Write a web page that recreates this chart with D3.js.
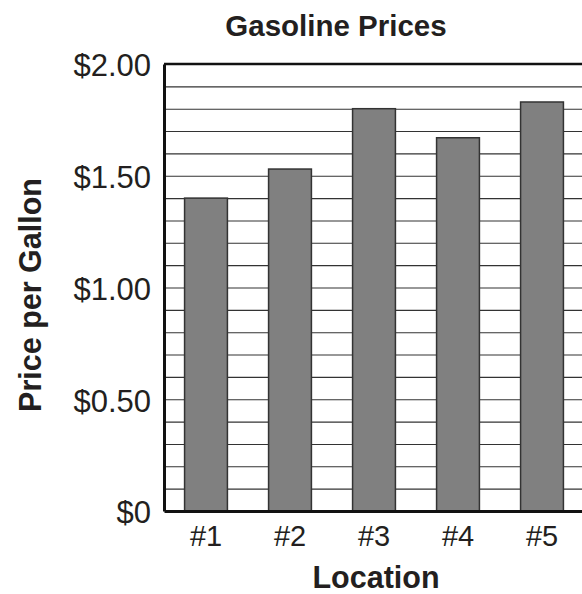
<!DOCTYPE html>
<html>
<head>
<meta charset="utf-8">
<script src="https://cdn.jsdelivr.net/npm/d3@7"></script>
<style>
  body { margin: 0; background: #fff; }
  text { font-family: "Liberation Sans", Arial, Helvetica, sans-serif; fill: #231f20; }
</style>
</head>
<body>
<div id="content"></div>
<script>
// data
var locations = ["#1", "#2", "#3", "#4", "#5"];
var prices = [1.40, 1.53, 1.80, 1.67, 1.83];
var yTicks = [0, 0.5, 1.0, 1.5, 2.0];

(() => {
    var W = 582, H = 594;
    var margin = { top: 64, right: -2, bottom: 83, left: 164 };
    var width = W - margin.left - margin.right;
    var height = H - margin.top - margin.bottom;

    var svg = d3.select("#content").append("svg")
        .attr("width", W)
        .attr("height", H);

    var g = svg.append("g")
        .attr("transform", "translate(" + margin.left + "," + margin.top + ")");

    var x = d3.scaleBand().domain(locations).range([0, width])
        .paddingInner(0.49).paddingOuter(0.245);
    var y = d3.scaleLinear().domain([0, 2]).range([height, 0]);

    // gridlines every 10 cents
    var grid = d3.range(1, 20).map(function (i) { return i / 10; });
    g.append("g")
        .attr("class", "grid")
        .call(d3.axisLeft(y).tickValues(grid).tickSize(-width).tickFormat(""))
        .call(function (s) {
            s.select(".domain").remove();
            s.selectAll("line").attr("stroke", "#333").attr("stroke-width", 1.1);
        });

    // bars
    g.selectAll(".bar")
        .data(prices)
        .enter().append("rect")
        .attr("class", "bar")
        .attr("x", function (d, i) { return x(locations[i]); })
        .attr("width", x.bandwidth())
        .attr("y", function (d) { return y(d); })
        .attr("height", function (d) { return height - y(d); })
        .attr("fill", "#808080")
        .attr("stroke", "#333")
        .attr("stroke-width", 1.5);

    // top border
    g.append("line")
        .attr("x1", 0).attr("x2", width)
        .attr("y1", 0).attr("y2", 0)
        .attr("stroke", "#111").attr("stroke-width", 2.5);

    // y axis
    g.append("g")
        .attr("class", "y axis")
        .call(d3.axisLeft(y).tickValues(yTicks).tickSize(0).tickPadding(13)
            .tickFormat(function (d) { return d === 0 ? "$0" : "$" + d.toFixed(2); }))
        .call(function (s) {
            s.select(".domain").attr("stroke", "#111").attr("stroke-width", 3);
            s.selectAll("text").style("font-size", "31px").attr("dy", "0.38em");
        });

    // x axis
    g.append("g")
        .attr("class", "x axis")
        .attr("transform", "translate(0," + height + ")")
        .call(d3.axisBottom(x).tickSize(0).tickPadding(14))
        .call(function (s) {
            s.select(".domain").attr("stroke", "#111").attr("stroke-width", 3);
            s.selectAll("text").style("font-size", "29px");
        });

    // titles
    svg.append("text")
        .attr("x", 336).attr("y", 36)
        .attr("text-anchor", "middle")
        .style("font-size", "29.5px").style("font-weight", "bold")
        .text("Gasoline Prices");

    svg.append("text")
        .attr("x", 376).attr("y", 588)
        .attr("text-anchor", "middle")
        .style("font-size", "30.5px").style("font-weight", "bold")
        .text("Location");

    svg.append("text")
        .attr("transform", "translate(41,295) rotate(-90)")
        .attr("text-anchor", "middle")
        .style("font-size", "30.5px").style("font-weight", "bold")
        .text("Price per Gallon");
})();
</script>
</body>
</html>
